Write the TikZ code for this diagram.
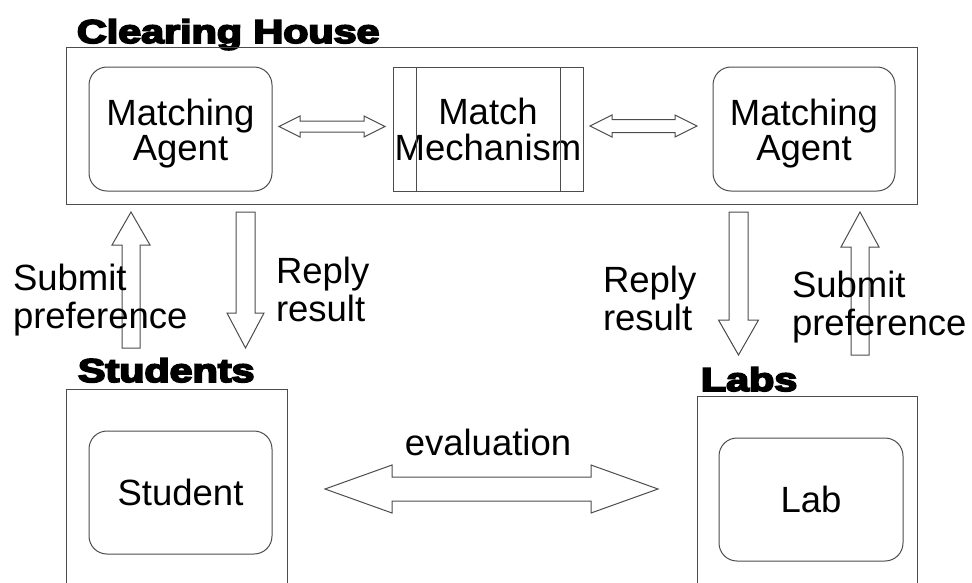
\documentclass[tikz,border=0pt]{standalone}
\usepackage{graphicx}
\usepackage{fontspec}
\setmainfont{Liberation Sans}
\newfontfamily\heavyfont{Liberation Sans Bold}[FakeBold=5]
\usetikzlibrary{calc}
\definecolor{linegray}{gray}{0.3}
\newcommand\txtfont{\fontsize{36.5}{38}\selectfont}
\newcommand\agentfont{\fontsize{36.5}{33}\selectfont}
\newcommand\titlefont{\heavyfont\fontsize{33}{36}\selectfont}
\newcommand\twolines[2]{\begin{tabular}{@{}c@{}}\rule{0pt}{37pt}#1\\#2\end{tabular}}
% horizontal hollow double arrow: #1 left tip, #2 right tip, #3 head length, #4 head half width, #5 shaft half width
\newcommand\hdblarrow[5]{%
  \draw[blk] let \p1=#1, \p2=#2 in
    (\x1,\y1) -- (\x1+#3,\y1+#4) -- (\x1+#3,\y1+#5) -- (\x2-#3,\y1+#5) -- (\x2-#3,\y1+#4)
    -- (\x2,\y1) -- (\x2-#3,\y1-#4) -- (\x2-#3,\y1-#5) -- (\x1+#3,\y1-#5) -- (\x1+#3,\y1-#4) -- cycle;}
% vertical hollow single arrow: #1 tip, #2 tail, #3 signed head length (canvas), #4 head half width, #5 shaft half width
\newcommand\vblkarrow[5]{%
  \draw[blk] let \p1=#1, \p2=#2 in
    (\x1,\y1) -- (\x1+#4,\y1+#3) -- (\x1+#5,\y1+#3) -- (\x1+#5,\y2) -- (\x1-#5,\y2)
    -- (\x1-#5,\y1+#3) -- (\x1-#4,\y1+#3) -- cycle;}
\begin{document}
\begin{tikzpicture}[x=1pt,y=-1pt,
  every node/.style={inner sep=0pt, outer sep=0pt},
  frame/.style={draw=linegray, line width=1pt, anchor=north west},
  agent/.style={draw=linegray, line width=1pt, rounded corners=18pt, font=\agentfont, align=center},
  mechbox/.style={draw=linegray, line width=1pt, font=\agentfont, align=center},
  title/.style={anchor=base west, font=\titlefont},
  lbl/.style={anchor=base west, font=\txtfont},
  blk/.style={draw=linegray, line width=1pt, line join=miter}]
\useasboundingbox (0,0) rectangle (972,582);
\clip (0,0) rectangle (972,582);

% Clearing house
\node[title] (cht) at (77,43) {\scalebox{1.25}[1]{Clearing House}};
\node[frame, minimum width=851pt, minimum height=157pt] (ch) at (66,47) {};
\node[agent, minimum width=183pt, minimum height=124pt] (agentL) at (180.5,129) {\twolines{Matching}{Agent}};
\node[mechbox, minimum width=190pt, minimum height=124pt] (mech) at (488,129) {\twolines{Match}{Mechanism}};
\draw[draw=linegray, line width=1pt] ([xshift=23pt]mech.north west) -- ([xshift=23pt]mech.south west);
\draw[draw=linegray, line width=1pt] ([xshift=-23pt]mech.north east) -- ([xshift=-23pt]mech.south east);
\node[agent, minimum width=182pt, minimum height=124pt] (agentR) at (804,129) {\twolines{Matching}{Agent}};

\hdblarrow{($(agentL.east)+(7,-2.5)$)}{($(mech.west)+(-8,-2.5)$)}{21pt}{10.5pt}{5.5pt}
\hdblarrow{($(mech.east)+(7,-3)$)}{($(agentR.west)+(-16,-3)$)}{22pt}{11pt}{6.5pt}

% Students
\node[title] (stt) at (78,382) {\scalebox{1.25}[1]{Students}};
\node[frame, minimum width=221pt, minimum height=260pt] (studbox) at (66,389) {};
\node[agent, minimum width=183pt, minimum height=123pt, font=\txtfont] (student) at (180.5,492.5) {Student};

% Labs
\node[title] (lbt) at (701,391) {\scalebox{1.25}[1]{Labs}};
\node[frame, minimum width=220pt, minimum height=260pt] (labbox) at (697,396) {};
\node[agent, minimum width=184pt, minimum height=123pt, font=\txtfont] (lab) at (811,499.5) {Lab};

% vertical arrows
\vblkarrow{($(ch.south west)+(65,8)$)}{($(studbox.north west)+(65,-41)$)}{-33pt}{19pt}{9pt}
\vblkarrow{($(studbox.north west)+(179.5,-41)$)}{($(ch.south west)+(179.5,8)$)}{35pt}{18.5pt}{9.5pt}
\vblkarrow{($(labbox.north west)+(41.5,-41)$)}{($(ch.south west)+(672.5,8)$)}{35pt}{20pt}{9.5pt}
\vblkarrow{($(ch.south west)+(794,8)$)}{($(labbox.north west)+(163,-41)$)}{-35pt}{19pt}{9pt}

% labels
\node[lbl] (subL) at (13,290) {\begin{tabular}[t]{@{}l@{}}Submit\\preference\end{tabular}};
\node[lbl] (repL) at (276,283) {\begin{tabular}[t]{@{}l@{}}Reply\\result\end{tabular}};
\node[lbl] (repR) at (603,292) {\begin{tabular}[t]{@{}l@{}}Reply\\result\end{tabular}};
\node[lbl] (subR) at (792,297) {\begin{tabular}[t]{@{}l@{}}Submit\\preference\end{tabular}};

% evaluation
\hdblarrow{($(student.east)+(53,-3.5)$)}{($(lab.west)+(-61,-10.5)$)}{67pt}{24pt}{12pt}
\node[font=\txtfont, anchor=base] (eval) at (488,455) {evaluation};
\end{tikzpicture}
\end{document}
